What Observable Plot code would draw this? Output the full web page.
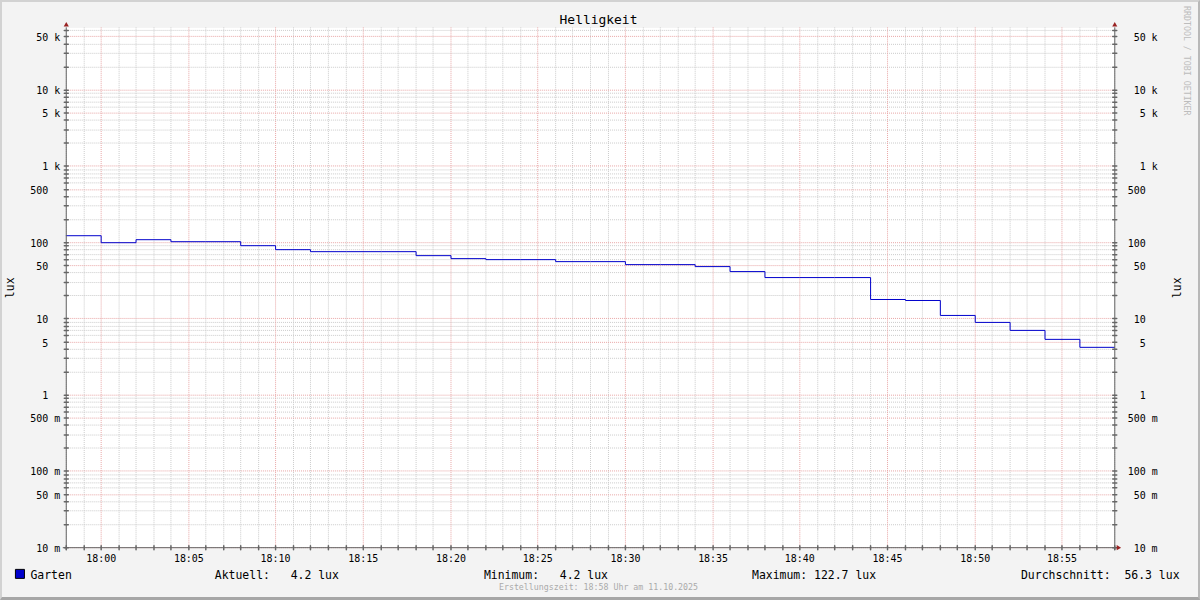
<!DOCTYPE html>
<html><head><meta charset="utf-8">
<script src="https://cdn.jsdelivr.net/npm/d3@7"></script>
<script src="https://cdn.jsdelivr.net/npm/@observablehq/plot@0.6"></script>
<style>
html,body{margin:0;padding:0;background:#fff;}
#chart{position:relative;width:1200px;height:600px;box-sizing:border-box;background:#f3f3f3;
  border-top:2px solid #d2d2d2;border-left:2px solid #d2d2d2;border-right:2px solid #b8b8b8;border-bottom:3px solid #a6a6a6;overflow:hidden}
#chart svg{position:absolute;left:-2px;top:-2px;}
</style></head><body><div id="chart"></div>
<script>
// ---- data ----
const title = "Helligkeit";
const seriesName = "Garten";
const times = ["17:58","18:00","18:02","18:04","18:06","18:08","18:10","18:12","18:14","18:16",
  "18:18","18:20","18:22","18:24","18:26","18:28","18:30","18:32","18:34","18:36",
  "18:38","18:40","18:42","18:44","18:46","18:48","18:50","18:52","18:54","18:56","18:58"];
const values = [122.7,101,108,102,102,90.6,80.3,75.6,75.6,75.6,
  67.6,61.1,59.3,59.3,55.8,55.8,51,51,48.1,41.4,
  34.6,34.6,34.6,18.1,17.5,11,9.06,7.1,5.43,4.2,4.2];
const xStart = "17:58", xEnd = "18:58";
const xTickLabels = ["18:00","18:05","18:10","18:15","18:20","18:25","18:30","18:35","18:40","18:45","18:50","18:55"];
const yDomain = [0.01, 65535];
const yTickValues = [0.01,0.05,0.1,0.5,1,5,10,50,100,500,1000,5000,10000,50000];
const yTickLabels = ["10 m","50 m","100 m","500 m","1","5","10","50","100","500","1 k","5 k","10 k","50 k"];
const statLabels = ["Aktuell:   4.2 lux","Minimum:   4.2 lux","Maximum: 122.7 lux","Durchschnitt:  56.3 lux"];
const credit = "Erstellungszeit: 18:58 Uhr am 11.10.2025";
const watermark = "RRDTOOL / TOBI OETIKER";
const yLabel = "lux";

// ---- derived ----
const parse = d3.utcParse("%H:%M");
const data = times.map((t, i) => ({time: parse(t), lux: values[i]}));
const xDomain = [parse(xStart), parse(xEnd)];
const majorX = xTickLabels.map(parse);
const allMinutes = d3.utcMinute.range(xDomain[0], d3.utcMinute.offset(xDomain[1], 1));
const majorSet = new Set(majorX.map(d => +d));
const minorX = allMinutes.filter(d => !majorSet.has(+d));
const decades = [0.01,0.1,1,10,100,1000,10000];
const yMinor = decades.flatMap(d => [2,3,4,6,7,8,9].map(m => +(m*d).toPrecision(3))).filter(v => v <= yDomain[1]);
const yAll = yTickValues.concat(yMinor);
const nb = s => s.replace(/ /g, "\u00a0");
const yTicks = yTickValues.map((v, i) => ({v, label: nb(/[mk]$/.test(yTickLabels[i]) ? yTickLabels[i] : yTickLabels[i] + "  ")}));

const minorColor = "#cbcbcb", majorColor = "#e8a6a6", axisColor = "#666", arrowColor = "#922";
const mono = "'DejaVu Sans Mono', monospace";
const tickShape = {draw(ctx, l) { ctx.moveTo(0, 0); ctx.lineTo(0, -l); }};
const T = {lineAnchor: "middle"};

const chart = Plot.plot({
  width: 1200, height: 600,
  marginLeft: 66, marginRight: 82, marginTop: 27.5, marginBottom: 51,
  style: {fontFamily: mono, fontSize: "10px", color: "#000", background: "transparent", overflow: "visible"},
  x: {type: "utc", domain: xDomain, round: true, axis: null},
  y: {type: "log", domain: yDomain, round: true, axis: null},
  marks: [
    Plot.frame({fill: "#fff", stroke: "none"}),
    Plot.ruleX(minorX, {stroke: minorColor, strokeDasharray: "1,1"}),
    Plot.ruleY(yMinor, {stroke: minorColor, strokeDasharray: "1,1"}),
    Plot.ruleX(majorX, {stroke: majorColor, strokeDasharray: "1,1"}),
    Plot.ruleY(yTickValues, {stroke: majorColor, strokeDasharray: "1,1"}),
    Plot.line(data, {x: "time", y: "lux", curve: "step-after", stroke: "#0000cc", strokeWidth: 1}),
    // axis lines
    Plot.ruleX(xDomain, {stroke: axisColor, insetBottom: -3}),
    Plot.ruleY([yDomain[0]], {stroke: axisColor, insetLeft: -3, insetRight: -2}),
    // crossing ticks
    Plot.vector(yAll, {y: d => d, frameAnchor: "left", length: 4, rotate: 90, anchor: "middle", shape: tickShape, stroke: axisColor}),
    Plot.vector(yAll, {y: d => d, frameAnchor: "right", length: 4, rotate: 90, anchor: "middle", shape: tickShape, stroke: axisColor}),
    Plot.vector(allMinutes, {x: d => d, frameAnchor: "bottom", length: 4, rotate: 0, anchor: "middle", shape: tickShape, stroke: axisColor}),
    // arrows
    Plot.dot([0], {frameAnchor: "top-left", dy: -3, symbol: "triangle", r: 1.9, fill: arrowColor, stroke: "none"}),
    Plot.dot([0], {frameAnchor: "top-right", dy: -3, symbol: "triangle", r: 1.9, fill: arrowColor, stroke: "none"}),
    Plot.dot([0], {frameAnchor: "bottom-right", dx: 3.4, symbol: "triangle", rotate: 90, r: 1.9, fill: arrowColor, stroke: "none"}),
    // tick labels
    Plot.text(yTicks, {y: "v", text: "label", frameAnchor: "left", dx: -6, dy: 1, textAnchor: "end", ...T, fontSize: 10}),
    Plot.text(yTicks, {y: "v", text: "label", frameAnchor: "right", dx: 43, dy: 1, textAnchor: "end", ...T, fontSize: 10}),
    Plot.text(majorX, {x: d => d, text: d3.utcFormat("%H:%M"), frameAnchor: "bottom", dy: 11.5, textAnchor: "middle", ...T, fontSize: 10}),
    // titles / texts
    Plot.text([title], {text: d => d, frameAnchor: "top", dx: 8, dy: -8, textAnchor: "middle", ...T, fontSize: 13}),
    Plot.text([yLabel], {text: d => d, frameAnchor: "left", dx: -56.5, rotate: -90, textAnchor: "middle", ...T, fontSize: 11.5}),
    Plot.text([yLabel], {text: d => d, frameAnchor: "right", dx: 63, rotate: -90, textAnchor: "middle", ...T, fontSize: 11.5}),
    Plot.text([watermark], {text: d => d, frameAnchor: "top-right", dx: 72, dy: 33, rotate: 90, textAnchor: "middle", ...T, fontSize: 8.3, fill: "#bcbcbc"}),
    Plot.text([credit], {text: d => d, frameAnchor: "bottom", dx: 8, dy: 40, textAnchor: "middle", ...T, fontSize: 8.3, fill: "#aaa"}),
    // legend
    Plot.dot([seriesName], {frameAnchor: "bottom-left", dx: -46.5, dy: 26.3, symbol: "square", r: 5.1, fill: "#0000cc", stroke: "#000", strokeWidth: 1}),
    Plot.text([seriesName], {text: d => d, frameAnchor: "bottom-left", dx: -36, dy: 27.5, textAnchor: "start", ...T, fontSize: 11.5}),
    Plot.text([statLabels[0]], {text: d => nb(d), frameAnchor: "bottom-left", dx: 149, dy: 27.5, textAnchor: "start", ...T, fontSize: 11.5}),
    Plot.text([statLabels[1]], {text: d => nb(d), frameAnchor: "bottom-left", dx: 419, dy: 27.5, textAnchor: "start", ...T, fontSize: 11.5}),
    Plot.text([statLabels[2]], {text: d => nb(d), frameAnchor: "bottom-left", dx: 688, dy: 27.5, textAnchor: "start", ...T, fontSize: 11.5}),
    Plot.text([statLabels[3]], {text: d => nb(d), frameAnchor: "bottom-right", dx: 65, dy: 27.5, textAnchor: "end", ...T, fontSize: 11.5})
  ]
});
document.getElementById("chart").appendChild(chart);
</script></body></html>
